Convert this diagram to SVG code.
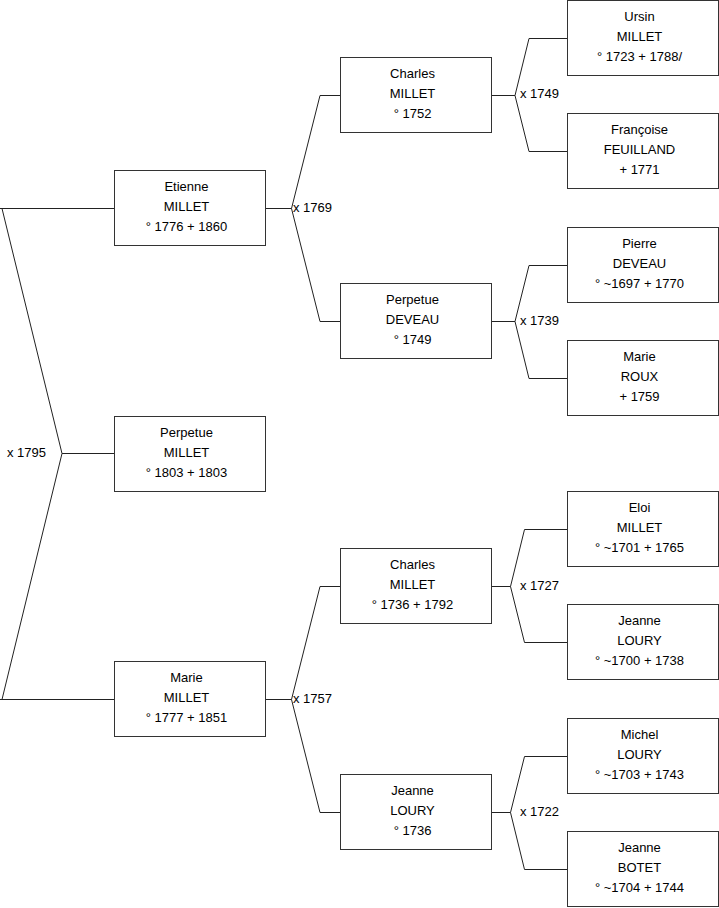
<svg xmlns="http://www.w3.org/2000/svg" width="719" height="908" viewBox="0 0 719 908">
<style>
.box{fill:#fff;stroke:#333;stroke-width:1}
.ln{fill:none;stroke:#222;stroke-width:1}
text{font-family:"Liberation Sans",Arial,sans-serif;font-size:13px;fill:#000}
.c{text-anchor:middle}
</style>
<rect width="719" height="908" fill="#fff"/>
<g id="connectors">
<path class="ln" d="M0,208.5 H114.5 M2,208.5 L62,453.5 L2,699.5 M0,699.5 H114.5 M62,453.5 H114.5"/>
<path class="ln" d="M265.5,208.5 H291.5 L320,95.5 H340.5 M291.5,208.5 L320,321.5 H340.5"/>
<path class="ln" d="M265.5,699.5 H291.5 L320,586.5 H340.5 M291.5,699.5 L320,812.5 H340.5"/>
<path class="ln" d="M491.5,95.5 H515 L529,38.5 H567.5 M515,95.5 L529,151.5 H567.5"/>
<path class="ln" d="M491.5,321.5 H515 L529,265.5 H567.5 M515,321.5 L529,378.5 H567.5"/>
<path class="ln" d="M491.5,586.5 H510.5 L524.5,529.5 H567.5 M510.5,586.5 L524.5,642.5 H567.5"/>
<path class="ln" d="M491.5,812.5 H510.5 L524.5,756.5 H567.5 M510.5,812.5 L524.5,869.5 H567.5"/>
<text x="7" y="457">x 1795</text>
<text x="293" y="212">x 1769</text>
<text x="293" y="703">x 1757</text>
<text x="520" y="98">x 1749</text>
<text x="520" y="325">x 1739</text>
<text x="520" y="590">x 1727</text>
<text x="520" y="816">x 1722</text>
</g>
<g id="etienne"><rect class="box" x="114.5" y="170.5" width="151" height="75"/>
<text class="c" x="186.5" y="191">Etienne</text><text class="c" x="186.5" y="211">MILLET</text><text class="c" x="186.5" y="231">° 1776 + 1860</text></g>
<g id="perpetue-millet"><rect class="box" x="114.5" y="416.5" width="151" height="75"/>
<text class="c" x="186.5" y="437">Perpetue</text><text class="c" x="186.5" y="457">MILLET</text><text class="c" x="186.5" y="477">° 1803 + 1803</text></g>
<g id="marie-millet"><rect class="box" x="114.5" y="661.5" width="151" height="75"/>
<text class="c" x="186.5" y="682">Marie</text><text class="c" x="186.5" y="702">MILLET</text><text class="c" x="186.5" y="722">° 1777 + 1851</text></g>

<g id="charles-1752"><rect class="box" x="340.5" y="57.5" width="151" height="75"/>
<text class="c" x="412.5" y="78">Charles</text><text class="c" x="412.5" y="98">MILLET</text><text class="c" x="412.5" y="118">° 1752</text></g>
<g id="perpetue-deveau"><rect class="box" x="340.5" y="283.5" width="151" height="75"/>
<text class="c" x="412.5" y="304">Perpetue</text><text class="c" x="412.5" y="324">DEVEAU</text><text class="c" x="412.5" y="344">° 1749</text></g>
<g id="charles-1736"><rect class="box" x="340.5" y="548.5" width="151" height="75"/>
<text class="c" x="412.5" y="569">Charles</text><text class="c" x="412.5" y="589">MILLET</text><text class="c" x="412.5" y="609">° 1736 + 1792</text></g>
<g id="jeanne-loury-1736"><rect class="box" x="340.5" y="774.5" width="151" height="75"/>
<text class="c" x="412.5" y="795">Jeanne</text><text class="c" x="412.5" y="815">LOURY</text><text class="c" x="412.5" y="835">° 1736</text></g>

<g id="ursin"><rect class="box" x="567.5" y="0.5" width="151" height="75"/>
<text class="c" x="639.5" y="21">Ursin</text><text class="c" x="639.5" y="41">MILLET</text><text class="c" x="639.5" y="61">° 1723 + 1788/</text></g>
<g id="francoise"><rect class="box" x="567.5" y="113.5" width="151" height="75"/>
<text class="c" x="639.5" y="134">Françoise</text><text class="c" x="639.5" y="154">FEUILLAND</text><text class="c" x="639.5" y="174">+ 1771</text></g>
<g id="pierre"><rect class="box" x="567.5" y="227.5" width="151" height="75"/>
<text class="c" x="639.5" y="248">Pierre</text><text class="c" x="639.5" y="268">DEVEAU</text><text class="c" x="639.5" y="288">° ~1697 + 1770</text></g>
<g id="marie-roux"><rect class="box" x="567.5" y="340.5" width="151" height="75"/>
<text class="c" x="639.5" y="361">Marie</text><text class="c" x="639.5" y="381">ROUX</text><text class="c" x="639.5" y="401">+ 1759</text></g>
<g id="eloi"><rect class="box" x="567.5" y="491.5" width="151" height="75"/>
<text class="c" x="639.5" y="512">Eloi</text><text class="c" x="639.5" y="532">MILLET</text><text class="c" x="639.5" y="552">° ~1701 + 1765</text></g>
<g id="jeanne-loury-1700"><rect class="box" x="567.5" y="604.5" width="151" height="75"/>
<text class="c" x="639.5" y="625">Jeanne</text><text class="c" x="639.5" y="645">LOURY</text><text class="c" x="639.5" y="665">° ~1700 + 1738</text></g>
<g id="michel"><rect class="box" x="567.5" y="718.5" width="151" height="75"/>
<text class="c" x="639.5" y="739">Michel</text><text class="c" x="639.5" y="759">LOURY</text><text class="c" x="639.5" y="779">° ~1703 + 1743</text></g>
<g id="jeanne-botet"><rect class="box" x="567.5" y="831.5" width="151" height="75"/>
<text class="c" x="639.5" y="852">Jeanne</text><text class="c" x="639.5" y="872">BOTET</text><text class="c" x="639.5" y="892">° ~1704 + 1744</text></g>
</svg>
